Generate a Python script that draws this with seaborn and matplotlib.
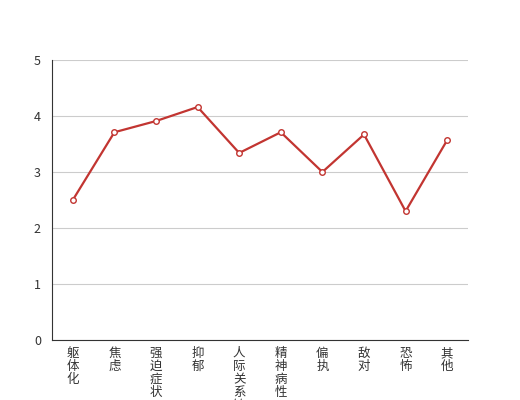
import matplotlib
matplotlib.use('Agg')
import matplotlib.pyplot as plt
import seaborn as sns
import pandas as pd

categories = ['躯体化', '焦虑', '强迫症状', '抑郁', '人际关系敏感',
              '精神病性', '偏执', '敌对', '恐怖', '其他']
scores = [2.5, 3.71, 3.91, 4.16, 3.34, 3.71, 3.0, 3.67, 2.3, 3.57]
y_ticks = [0, 1, 2, 3, 4, 5]

sns.set_style('white')
plt.rcParams['font.family'] = ['Noto Sans CJK SC', 'DejaVu Sans']

df = pd.DataFrame({'factor': categories, 'score': scores})

fig = plt.figure(figsize=(5.2, 4), dpi=100)
ax = fig.add_axes([0.1, 0.15, 0.8, 0.7])

sns.lineplot(x='factor', y='score', data=df, color='#c23531', linewidth=1.6,
             marker='o', markersize=4, markerfacecolor='white',
             markeredgecolor='#c23531', markeredgewidth=1, ax=ax, zorder=3)

ax.set_xlim(-0.5, len(categories) - 0.5)
ax.set_ylim(0, 5)
ax.set_yticks(y_ticks)
ax.yaxis.grid(True, color='#cccccc', linewidth=0.8)
ax.set_axisbelow(True)

# category labels written vertically, ticks on the category boundaries
ax.set_xticks(range(len(categories)))
ax.set_xticklabels(['\n'.join(c) for c in categories], va='top',
                   linespacing=1.0, fontsize=9, color='#333333')
ax.set_xticks([i - 0.5 for i in range(len(categories) + 1)], minor=True)
ax.tick_params(axis='x', which='major', length=0, pad=5)
ax.tick_params(axis='x', which='minor', length=4, width=0.8, color='#333333', direction='out')
ax.tick_params(axis='y', length=4, width=0.8, color='#333333', direction='out',
               labelsize=9, labelcolor='#333333', pad=4)

for s in ['top', 'right']:
    ax.spines[s].set_visible(False)
for s in ['left', 'bottom']:
    ax.spines[s].set_color('#333333')
    ax.spines[s].set_linewidth(0.8)

ax.set_xlabel('')
ax.set_ylabel('')

fig.savefig('out.png', dpi=100)
